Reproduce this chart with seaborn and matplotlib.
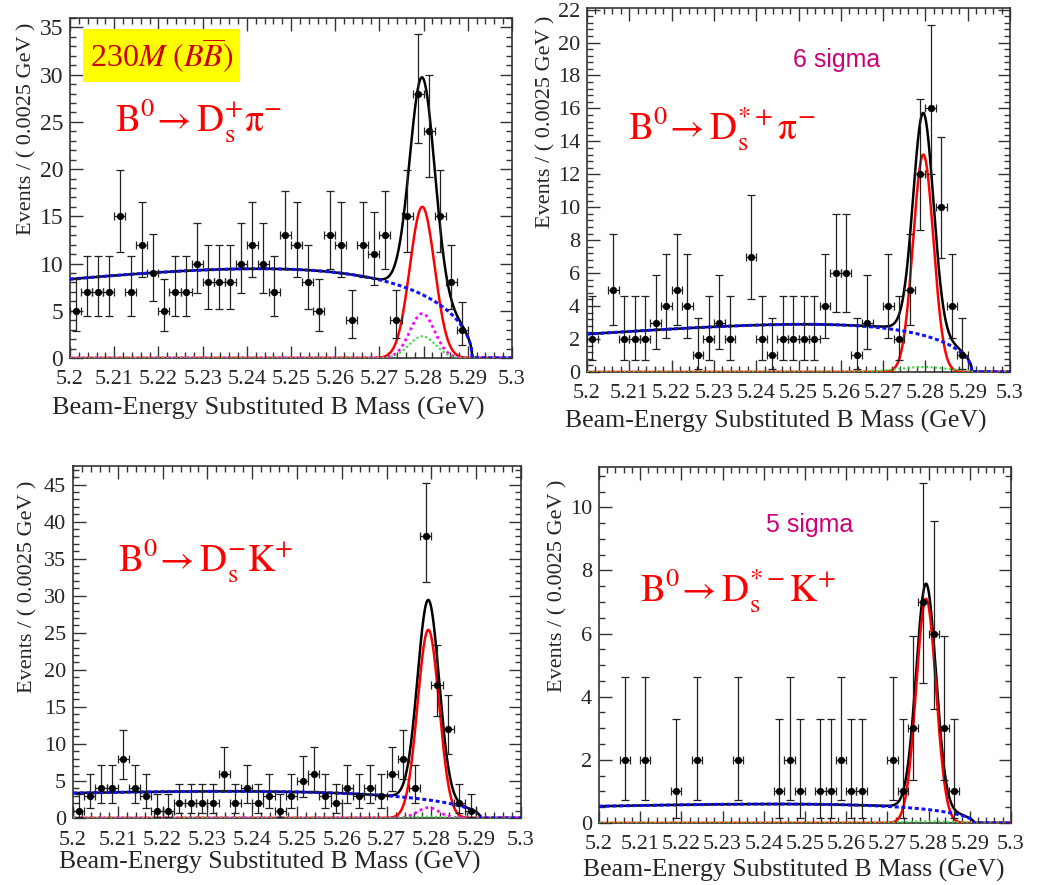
import numpy as np
import matplotlib
matplotlib.use("Agg")
import matplotlib.pyplot as plt
from matplotlib.ticker import MultipleLocator, FixedLocator
import seaborn as sns

# binning: 0.0025 GeV bins starting at 5.2 GeV (bins above 5.29 are empty)
M_LO = 5.2
BIN_W = 0.0025

# events per bin
counts_dspi = [5, 7, 7, 7, 15, 7, 12, 9, 5, 7, 7, 10, 8, 8, 8, 10, 12, 10,
               7, 13, 12, 8, 5, 13, 12, 4, 12, 11, 13, 4, 15, 28, 24, 15, 8, 3]
counts_dsstpi = [2, 0, 5, 2, 2, 2, 3, 4, 5, 4, 1, 2, 3, 2, 0, 7, 2, 1,
                 2, 2, 2, 2, 4, 6, 6, 1, 3, 0, 4, 2, 5, 12, 16, 10, 4, 1]
counts_dsk = [1, 3, 4, 4, 8, 4, 3, 1, 1, 2, 2, 2, 2, 6, 2, 4, 2, 3,
              1, 3, 5, 6, 3, 2, 4, 3, 4, 3, 6, 8, 4, 38, 18, 12, 2, 1]
counts_dsstk = [0, 0, 2, 0, 2, 0, 0, 1, 0, 2, 0, 0, 0, 2, 0, 0, 0, 1,
                2, 1, 0, 1, 1, 2, 1, 1, 0, 0, 2, 1, 3, 7, 6, 3, 1, 0]

# fit model parameters per panel (ARGUS background + Gaussian signal + peaking bkgs)
argus_m0 = 5.291
argus_at_lo = [8.35, 2.3, 3.37, 0.53]
argus_c = [-27, -33, -23, -27]
sig_peak = [16.0, 13.2, 25.4, 7.1]
sig_mean = [5.2797, 5.2795, 5.2793, 5.2794]
sig_width = [0.0028, 0.0024, 0.0024, 0.0024]
magenta_peak = [4.7, 0.0, 1.4, 0.0]
green_peak = [2.3, 0.3, 0.2, 0.05]
green_width = [0.003, 0.006, 0.003, 0.006]

y_max = [36, 22.1, 47.5, 11.28]
y_major = [5, 2, 5, 2]
y_minor = [1, 0.4, 1, 0.5]
x_ticks = [5.2, 5.21, 5.22, 5.23, 5.24, 5.25, 5.26, 5.27, 5.28, 5.29, 5.3]

reactions = [r"$\mathrm{B^0\!\rightarrow D_s^{+}\pi^{-}}$",
             r"$\mathrm{B^0\!\rightarrow D_s^{*+}\pi^{-}}$",
             r"$\mathrm{B^0\!\rightarrow D_s^{-}K^{+}}$",
             r"$\mathrm{B^0\!\rightarrow D_s^{*-}K^{+}}$"]
significance = [None, "6 sigma", None, "5 sigma"]

# layout (figure fractions) and label placement (axes fractions)
rects = [[0.0674, 0.5955, 0.4254, 0.3842],
         [0.565, 0.5797, 0.4071, 0.4113],
         [0.0703, 0.0757, 0.4312, 0.3977],
         [0.5765, 0.0701, 0.3965, 0.4023]]
xlabel_pos = [(0.448, -0.147), (0.447, -0.137), (0.44, -0.125), (0.473, -0.132)]
ylabel_pos = [(-0.097, 0.674), (-0.097, 0.687), (-0.100, 0.656), (-0.0995, 0.666)]
reaction_pos = [(0.102, 0.665), (0.097, 0.637), (0.100, 0.699), (0.10, 0.621)]
sigma_pos = [None, (0.589, 0.857), None, (0.512, 0.837)]

SERIF = ["Liberation Serif", "DejaVu Serif"]


def argus(m, at_lo, c):
    z = np.clip(1 - (m / argus_m0) ** 2, 0, None)
    z0 = 1 - (M_LO / argus_m0) ** 2
    return at_lo * (m / M_LO) * np.sqrt(z / z0) * np.exp(c * (z - z0))


def gauss(m, peak, mu, s):
    return peak * np.exp(-0.5 * ((m - mu) / s) ** 2)


def poisson_err(n):
    # approximate 68% Poisson interval (as used for RooFit data points)
    n = np.asarray(n, dtype=float)
    lo = n - n * (1 - 1 / (9 * n) - 1 / (3 * np.sqrt(n))) ** 3
    up = (n + 1) * (1 - 1 / (9 * (n + 1)) + 1 / (3 * np.sqrt(n + 1))) ** 3 - n
    return lo, up


sns.set_theme(style="ticks")
plt.rcParams["font.family"] = SERIF
plt.rcParams["mathtext.fontset"] = "stix"

fig = plt.figure(figsize=(10.39, 8.85), dpi=100)
all_counts = [counts_dspi, counts_dsstpi, counts_dsk, counts_dsstk]
m = np.linspace(M_LO, 5.3, 1201)

for k in range(4):
    ax = fig.add_axes(rects[k])
    counts = np.array(all_counts[k])
    centers = M_LO + BIN_W * (np.arange(len(counts)) + 0.5)
    keep = counts > 0
    n = counts[keep]
    x = centers[keep]
    lo, up = poisson_err(n)

    bkg = argus(m, argus_at_lo[k], argus_c[k])
    sig = gauss(m, sig_peak[k], sig_mean[k], sig_width[k])
    mag = gauss(m, magenta_peak[k], sig_mean[k], sig_width[k])
    grn = gauss(m, green_peak[k], sig_mean[k], green_width[k])
    total = bkg + sig + mag + grn

    sns.lineplot(x=m, y=total, ax=ax, color="black", linewidth=1.8, zorder=3)
    sns.lineplot(x=m, y=sig, ax=ax, color="#ff0000", linewidth=1.8, zorder=4)
    if magenta_peak[k] > 0:
        sns.lineplot(x=m, y=mag, ax=ax, color="#ff00ff", linewidth=2.0,
                     linestyle=(0, (1, 1.2)), zorder=4)
    sns.lineplot(x=m, y=grn, ax=ax, color="#33dd33", linewidth=1.5,
                 linestyle=(0, (1, 1.2)), zorder=4)
    sns.lineplot(x=m, y=bkg, ax=ax, color="#1010ff", linewidth=2.2,
                 linestyle=(0, (1.3, 0.9)), zorder=5)

    ax.errorbar(x, n, yerr=[lo, up], xerr=BIN_W / 2, fmt="none",
                ecolor="#222222", elinewidth=0.9, capsize=3, capthick=0.9, zorder=6)
    sns.scatterplot(x=x, y=n, ax=ax, color="black", s=22, edgecolor="black",
                    linewidth=0.5, zorder=7)

    ax.set_xlim(M_LO, 5.3)
    ax.set_ylim(0, y_max[k])
    ax.xaxis.set_major_locator(FixedLocator(x_ticks))
    ax.set_xticklabels([f"{t:g}" for t in x_ticks])
    ax.xaxis.set_minor_locator(MultipleLocator(0.002))
    ax.yaxis.set_major_locator(MultipleLocator(y_major[k]))
    ax.yaxis.set_minor_locator(MultipleLocator(y_minor[k]))
    ax.tick_params(which="both", direction="in", top=True, right=True,
                   color="#333333", width=1.0)
    ax.tick_params(which="major", length=9)
    ax.tick_params(which="minor", length=4.5)
    ax.tick_params(axis="x", labelsize=16, pad=9)
    ax.tick_params(axis="y", labelsize=17 if k == 0 else 16, pad=5)
    for lbl in ax.get_xticklabels() + ax.get_yticklabels():
        lbl.set_fontfamily(SERIF)
    for sp in ax.spines.values():
        sp.set_color("#333333")
        sp.set_linewidth(1.2)

    ax.set_xlabel("Beam-Energy Substituted B Mass (GeV)",
                  fontsize=19 if k == 0 else 18.5)
    ax.xaxis.set_label_coords(*xlabel_pos[k])
    ax.xaxis.label.set_va("center")
    ax.set_ylabel("Events / ( 0.0025 GeV )", fontsize=16)
    ax.yaxis.set_label_coords(*ylabel_pos[k])
    ax.yaxis.label.set_va("center")

    ax.text(*reaction_pos[k], reactions[k], transform=ax.transAxes,
            color="#ff0000", fontsize=27, ha="left", va="baseline")
    if significance[k]:
        ax.text(*sigma_pos[k], significance[k], transform=ax.transAxes,
                color="#cc0077", fontsize=18, ha="center", va="center",
                family=["Liberation Sans", "DejaVu Sans"])
    if k == 0:
        ax.text(0.045, 0.856, r"230$M\ (B\overline{B})$", transform=ax.transAxes,
                color="#cc0000", fontsize=23, ha="left", va="baseline",
                bbox=dict(facecolor="#ffff00", edgecolor="none", pad=5))

fig.savefig("out.png", dpi=100)
